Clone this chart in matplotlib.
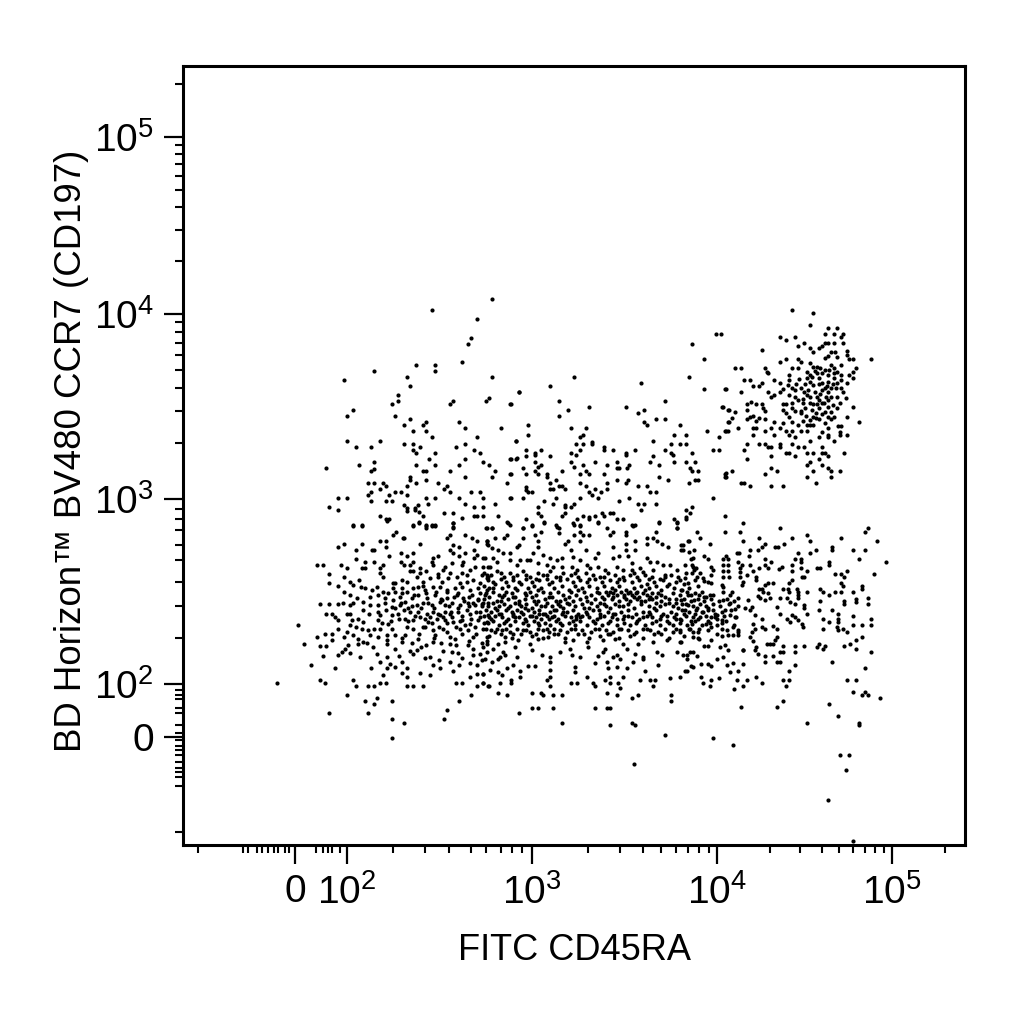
#!/usr/bin/env python

import numpy as np
import matplotlib
matplotlib.use('Agg')
import matplotlib.pyplot as plt
from matplotlib.ticker import FixedLocator, NullFormatter

# all events are in display decades of the biexponential axes (2 = 10^2, 3 = 10^3, ...)
# one list per region

upper_left = [
(2.786,4.085),(2.458,4.020),(2.703,3.971),(2.670,3.872),(2.654,3.840),(2.622,3.741),(2.375,3.725),(2.474,3.725),
(2.474,3.692),(2.146,3.692),(1.982,3.644),(2.326,3.660),(2.786,3.660),(2.342,3.611),(2.278,3.562),(2.278,3.528),
(2.245,3.512),(2.032,3.480),(1.998,3.447),(2.261,3.447),(2.342,3.431),(2.310,3.398),(2.409,3.398),(2.425,3.415),
(2.359,3.366),(2.425,3.366),(2.458,3.334),(1.998,3.316),(2.178,3.316),(2.047,3.283),(2.130,3.283),(2.310,3.299),
(2.359,3.299),(2.393,3.283),(2.359,3.267),(2.375,3.251),(2.474,3.251),(2.441,3.218),(2.065,3.184),(1.885,3.168),
(2.146,3.200),(2.146,3.162),(2.130,3.152),(2.375,3.184),(2.474,3.184),(2.409,3.152),(2.425,3.152),(2.342,3.119),
(2.342,3.103),(2.425,3.103),(2.375,3.087),(2.114,3.087),(2.146,3.087),(2.196,3.087),(2.213,3.071),(2.326,3.071),
(2.178,3.054),(2.490,3.087),(2.539,3.071),(2.523,3.054),(2.555,3.038),(2.261,3.038),(2.294,3.038),(2.130,3.038),
(2.114,3.022),(2.229,3.022),(2.326,3.022),(1.950,3.004),(1.998,3.004),(2.425,3.004),(2.474,3.004),(2.130,2.988),
(2.213,2.988),(2.245,2.988),(1.901,2.955),(1.950,2.939),(2.930,3.577),(2.768,3.544),(2.751,3.528),(2.571,3.528),
(2.555,3.512),(2.883,3.512),(2.604,3.415),(2.638,3.382),(2.834,3.382),(2.703,3.334),(2.915,3.316),(2.638,3.299),
(2.587,3.283),(2.687,3.267),(2.719,3.251),(2.638,3.218),(2.883,3.218),(2.915,3.218),(2.735,3.200),(2.768,3.184),
(2.605,3.184),(2.555,3.152),(2.802,3.152),(2.883,3.135),(2.638,3.119),(2.786,3.119),(2.867,3.087),(2.670,3.038),
(2.719,3.038),(2.605,3.004),(2.735,3.004),(2.883,3.004),(2.638,2.971),(2.802,2.971),(2.687,2.955),(2.735,2.955),
(2.523,2.923),(2.571,2.923),(2.178,2.906),(2.213,2.890),(2.229,2.890),(2.409,2.906),(2.622,2.896),(2.687,2.906),
(2.703,2.906),(2.735,2.906),(2.818,2.906),(2.391,2.874),(2.359,2.858),(2.425,2.858),(2.458,2.858),(2.474,2.858),
(2.031,2.858),(2.079,2.858),(2.571,2.869),(2.571,2.847),(2.867,2.874),(2.883,2.858),(2.751,2.842),(2.786,2.842),
(2.310,2.968),(2.326,2.950),(2.326,2.937),(2.368,2.941),(2.386,2.968),(2.368,2.950),(2.391,2.932),(2.440,2.971),
]

upper_mid = [
(3.997,3.890),(3.867,3.840),(3.931,3.757),(3.227,3.660),(3.850,3.660),(3.587,3.625),(3.095,3.611),(3.931,3.595),
(4.047,3.595),(2.931,3.577),(3.146,3.528),(3.719,3.528),(2.885,3.512),(3.195,3.480),(3.310,3.496),(3.506,3.496),
(4.030,3.496),(4.061,3.480),(3.571,3.463),(3.604,3.480),(3.146,3.447),(3.670,3.431),(3.719,3.431),(3.604,3.415),
(3.620,3.398),(4.061,3.415),(2.980,3.398),(3.800,3.398),(3.211,3.382),(3.294,3.382),(3.948,3.366),(4.052,3.366),
(2.980,3.348),(3.767,3.348),(3.832,3.348),(3.277,3.348),(3.259,3.334),(4.012,3.334),(2.915,3.316),(3.652,3.316),
(3.238,3.299),(3.277,3.299),(3.326,3.310),(3.326,3.298),(3.751,3.298),(3.800,3.299),(3.832,3.299),(3.391,3.280),
(3.391,3.265),(2.966,3.267),(3.047,3.267),(3.259,3.267),(3.440,3.267),(3.555,3.267),(3.719,3.267),(3.980,3.267),
(4.012,3.267),(3.014,3.251),(3.014,3.238),(3.506,3.251),(3.506,3.238),(3.751,3.247),(3.867,3.251),(2.885,3.218),
(2.917,3.224),(3.211,3.247),(3.238,3.238),(3.095,3.235),(2.966,3.235),(3.652,3.235),(3.764,3.238),(3.014,3.200),
(3.211,3.200),(3.342,3.200),(3.458,3.200),(3.636,3.200),(3.767,3.200),(3.832,3.200),(3.883,3.200),(3.047,3.184),
(3.034,3.175),(3.276,3.184),(3.407,3.184),(3.522,3.184),(3.686,3.184),(3.512,3.170),(2.949,3.168),(3.227,3.175),
(3.458,3.168),(3.472,3.168),(3.854,3.168),(3.014,3.152),(3.162,3.152),(3.292,3.152),(3.867,3.152),(3.899,3.152),
(2.885,3.135),(2.966,3.135),(3.031,3.135),(3.259,3.135),(3.310,3.135),(3.391,3.135),(4.047,3.135),(4.047,3.121),
(3.079,3.135),(3.079,3.121),(3.686,3.119),(3.128,3.103),(3.458,3.103),(3.735,3.103),(3.883,3.103),(3.899,3.103),
(3.521,3.103),(3.095,3.087),(3.259,3.087),(3.407,3.087),(3.506,3.087),(3.850,3.087),(3.146,3.071),(3.162,3.071),
(3.294,3.071),(3.571,3.071),(3.620,3.071),(2.966,3.063),(2.966,3.049),(2.980,3.038),(2.998,3.038),(3.095,3.054),
(3.112,3.054),(3.178,3.054),(3.342,3.054),(3.407,3.054),(3.310,3.038),(3.375,3.038),(3.636,3.038),(3.670,3.038),
(3.326,3.022),(2.885,3.004),(2.949,3.004),(3.128,3.004),(3.259,3.004),(3.358,3.004),(3.522,3.004),(3.980,3.004),
(3.063,2.988),(3.472,2.988),(3.112,2.971),(3.178,2.968),(3.178,2.955),(3.571,2.971),(3.604,2.971),(3.670,2.971),
(3.227,2.971),(3.031,2.955),(3.211,2.955),(3.867,2.955),(3.587,2.939),(3.832,2.939),(3.031,2.923),(3.178,2.923),
(3.376,2.923),(3.422,2.923),(3.440,2.923),(3.854,2.923),(3.047,2.906),(3.162,2.906),(3.276,2.906),(3.310,2.901),
(3.310,2.890),(3.342,2.906),(3.391,2.906),(3.832,2.905),(4.047,2.906),(2.966,2.890),(3.241,2.890),(3.458,2.890),
(3.490,2.890),(3.767,2.890),(3.832,2.890),(3.063,2.874),(3.358,2.874),(3.686,2.874),(3.782,2.878),(2.998,2.858),
(3.128,2.858),(3.227,2.858),(3.259,2.858),(3.539,2.858),(3.557,2.858),(2.949,2.842),(3.146,2.842),(3.407,2.842),
(3.784,2.842),
]

ccr7_high_cluster = [
(4.430,4.020),(4.550,4.004),(4.533,3.939),(4.636,3.923),(4.687,3.923),(4.619,3.890),(4.670,3.890),(4.722,3.890),
(4.707,3.874),(4.362,3.874),(4.447,3.874),(4.396,3.858),(4.021,3.890),(4.499,3.842),(4.465,3.826),(4.619,3.842),
(4.636,3.842),(4.602,3.826),(4.670,3.842),(4.722,3.842),(4.533,3.818),(4.550,3.793),(4.585,3.818),(4.255,3.807),
(4.741,3.802),(4.741,3.779),(4.756,3.759),(4.775,3.759),(4.653,3.793),(4.674,3.793),(4.636,3.775),(4.619,3.761),
(4.687,3.770),(4.880,3.759),(4.362,3.743),(4.396,3.759),(4.465,3.759),(4.482,3.743),(4.533,3.734),(4.550,3.716),
(4.569,3.716),(4.588,3.707),(4.653,3.725),(4.670,3.707),(4.687,3.689),(4.707,3.725),(4.707,3.671),(4.101,3.708),
(4.135,3.708),(4.274,3.708),(4.284,3.689),(4.293,3.680),(4.430,3.707),(4.465,3.708),(4.413,3.671),(4.516,3.689),
(4.533,3.671),(4.569,3.680),(4.619,3.698),(4.636,3.671),(4.792,3.707),(4.775,3.689),(4.756,3.671),(4.775,3.653),
(4.152,3.644),(4.187,3.644),(4.326,3.644),(4.362,3.626),(4.413,3.644),(4.407,3.617),(4.516,3.653),(4.533,3.635),
(4.550,3.617),(4.585,3.653),(4.602,3.626),(4.619,3.598),(4.670,3.653),(4.687,3.626),(4.707,3.644),(4.741,3.626),
(4.636,3.635),(4.204,3.611),(4.255,3.626),(4.240,3.611),(4.049,3.593),(4.135,3.579),(4.291,3.579),(4.379,3.593),
(4.362,3.580),(4.430,3.598),(4.447,3.590),(4.482,3.598),(4.499,3.580),(4.516,3.562),(4.569,3.553),(4.636,3.580),
(4.653,3.598),(4.707,3.598),(4.722,3.580),(4.687,3.553),(4.739,3.548),(4.308,3.553),(4.326,3.562),(4.413,3.562),
(4.447,3.553),(4.465,3.535),(4.430,3.517),(4.533,3.553),(4.585,3.535),(4.602,3.517),(4.550,3.514),(4.569,3.514),
(4.636,3.535),(4.192,3.526),(4.169,3.514),(4.221,3.514),(4.255,3.514),(4.379,3.514),(4.396,3.514),(4.489,3.517),
(4.032,3.496),(4.067,3.481),(4.101,3.469),(4.169,3.481),(4.265,3.490),(4.274,3.476),(4.379,3.481),(4.428,3.490),
(4.394,3.463),(4.411,3.445),(4.447,3.476),(4.480,3.476),(4.480,3.463),(4.636,3.499),(4.619,3.472),(4.653,3.472),
(4.687,3.490),(4.775,3.496),(4.567,3.463),(4.550,3.445),(4.533,3.427),(4.516,3.400),(4.533,3.400),(4.567,3.436),
(4.550,3.400),(4.636,3.445),(4.653,3.431),(4.670,3.445),(4.741,3.445),(4.619,3.409),(4.636,3.382),(4.693,3.397),
(4.707,3.397),(4.084,3.436),(4.067,3.415),(4.169,3.431),(4.187,3.445),(4.204,3.449),(4.221,3.420),(4.238,3.436),
(4.274,3.431),(4.809,3.415),(4.326,3.415),(4.430,3.415),(4.379,3.409),(4.360,3.382),(4.465,3.399),(4.118,3.382),
(4.207,3.382),(4.223,3.382),(4.274,3.366),(4.308,3.382),(4.326,3.348),(4.204,3.348),(4.047,3.366),(4.065,3.366),
(4.396,3.366),(4.413,3.348),(4.430,3.366),(4.446,3.337),(4.482,3.366),(4.516,3.366),(4.585,3.337),(4.602,3.364),
(4.636,3.348),(4.636,3.334),(4.670,3.316),(4.705,3.364),(4.705,3.346),(4.741,3.348),(4.533,3.316),(4.169,3.299),
(4.152,3.267),(4.238,3.299),(4.274,3.299),(4.293,3.283),(4.308,3.283),(4.362,3.299),(4.362,3.283),(4.430,3.299),
(4.465,3.283),(4.499,3.283),(4.602,3.283),(4.308,3.235),(4.396,3.251),(4.413,3.251),(4.447,3.235),(4.516,3.251),
(4.550,3.251),(4.602,3.251),(4.619,3.251),(4.636,3.235),(4.724,3.251),(4.169,3.218),(4.585,3.218),(4.533,3.202),
(4.516,3.186),(4.602,3.186),(4.636,3.170),(4.653,3.153),(4.308,3.170),(4.343,3.153),(4.550,3.153),(4.705,3.153),
(4.084,3.153),(4.049,3.139),(4.049,3.121),(4.274,3.137),(4.516,3.121),(4.653,3.121),(4.135,3.089),(4.152,3.089),
(4.187,3.072),(4.308,3.072),(4.377,3.072),(4.567,3.089),
# inside the cluster, between the dots above
(4.54,3.66),(4.58,3.62),(4.60,3.59),(4.63,3.61),(4.66,3.62),(4.68,3.60),(4.50,3.62),(4.47,3.65),(4.45,3.62),(4.56,3.58),
(4.59,3.57),(4.62,3.55),(4.65,3.55),(4.60,3.68),(4.64,3.70),(4.67,3.68),(4.56,3.69),(4.52,3.59),(4.49,3.54),(4.53,3.52),
(4.50,3.49),(4.54,3.48),(4.58,3.49),(4.60,3.46),(4.51,3.45),(4.58,3.43),(4.49,3.42),(4.61,3.52),(4.66,3.51),(4.70,3.52),
]

band_right = [
(4.150,2.872),(4.362,2.841),(4.048,2.823),(4.133,2.823),(3.893,2.823),(4.514,2.807),(4.865,2.841),(4.846,2.823),
(3.910,2.790),(4.238,2.790),(4.430,2.790),(4.707,2.790),(3.842,2.774),(4.150,2.774),(4.531,2.774),(4.916,2.774),
(3.962,2.758),(3.808,2.751),(3.808,2.727),(4.381,2.758),(4.274,2.758),(4.255,2.742),(4.236,2.724),(4.331,2.742),
(4.347,2.742),(4.655,2.742),(4.655,2.724),(3.874,2.726),(4.189,2.726),(4.568,2.726),(4.775,2.726),(4.846,2.726),
(4.465,2.709),(4.531,2.709),(4.128,2.709),(4.112,2.709),(3.931,2.693),(3.950,2.675),(4.050,2.691),(4.036,2.675),
(4.065,2.675),(4.185,2.693),(3.859,2.675),(4.274,2.677),(4.447,2.677),(4.482,2.677),(4.482,2.661),(4.811,2.677),
(4.966,2.659),(4.638,2.659),(4.638,2.643),(4.307,2.659),(4.036,2.646),(4.065,2.646),(4.122,2.659),(4.141,2.643),
(4.189,2.645),(4.238,2.628),(4.274,2.645),(4.293,2.628),(4.370,2.634),(4.356,2.623),(4.430,2.643),(4.482,2.628),
(4.570,2.628),(4.587,2.628),(3.867,2.643),(3.886,2.625),(3.876,2.616),(3.867,2.598),(3.970,2.634),(3.979,2.616),
(3.970,2.589),(4.131,2.625),(4.131,2.607),(4.208,2.612),(4.430,2.612),(4.516,2.612),(4.741,2.612),(4.672,2.596),
(4.707,2.596),(4.726,2.580),(4.895,2.596),(4.036,2.612),(4.065,2.612),(4.069,2.580),(4.036,2.580),(4.170,2.589),
(4.223,2.580),(4.223,2.562),(4.484,2.580),(4.499,2.580),(4.430,2.562),(4.411,2.547),(3.827,2.571),(3.846,2.544),
(3.922,2.571),(3.950,2.553),(3.970,2.544),(3.931,2.558),(4.131,2.580),(4.150,2.553),(4.141,2.535),(4.084,2.498),
(4.027,2.535),(4.036,2.498),(4.293,2.547),(4.322,2.547),(4.274,2.535),(4.238,2.513),(4.255,2.513),(4.707,2.547),
(4.722,2.529),(4.827,2.529),(4.827,2.513),(4.379,2.513),(4.408,2.513),(4.413,2.497),(4.455,2.513),(4.465,2.497),
(4.516,2.497),(4.587,2.513),(4.604,2.497),(4.638,2.481),(4.672,2.497),(4.707,2.497),(4.775,2.497),(4.265,2.499),
(4.293,2.490),(4.303,2.463),(4.236,2.475),(4.246,2.463),(4.274,2.454),(4.360,2.463),(4.398,2.463),(4.417,2.445),
(4.465,2.463),(4.465,2.481),(4.587,2.448),(4.724,2.448),(4.724,2.432),(4.794,2.457),(4.794,2.445),(4.863,2.464),
(4.863,2.432),(4.446,2.432),(4.343,2.416),(4.499,2.427),(4.499,2.409),(4.516,2.381),(4.585,2.400),(4.655,2.400),
(4.689,2.381),(4.360,2.381),(4.430,2.372),(4.446,2.363),(4.465,2.345),(4.483,2.327),(4.398,2.351),(4.417,2.336),
(4.255,2.351),(4.775,2.367),(4.880,2.351),(4.604,2.351),(4.689,2.351),(4.689,2.335),(4.638,2.335),(4.775,2.317),
(4.827,2.317),(4.880,2.317),(4.494,2.309),(4.604,2.300),(4.684,2.309),(4.689,2.291),(4.722,2.300),(4.741,2.282),
(4.322,2.313),(4.341,2.300),(4.255,2.309),(4.274,2.300),(4.208,2.327),(4.217,2.300),(4.198,2.282),(4.827,2.252),
(4.794,2.236),(4.760,2.219),(4.341,2.252),(4.331,2.237),(4.322,2.219),(4.284,2.219),(4.303,2.219),(4.189,2.252),
(4.208,2.234),(4.585,2.219),(4.570,2.201),(4.619,2.205),(4.604,2.187),(4.446,2.203),(4.499,2.203),(4.724,2.203),
(4.794,2.187),(4.446,2.171),(4.379,2.203),(4.880,2.171),(4.360,2.171),(4.379,2.171),(4.322,2.153),(4.274,2.153),
(4.217,2.183),(4.236,2.165),(4.223,2.201),(4.150,2.183),(4.341,2.120),(4.360,2.120),(4.446,2.104),(4.274,2.120),
(4.655,2.120),(4.846,2.088),(4.411,2.072),(4.741,2.021),(4.792,2.021),(4.379,2.021),(4.411,2.021),(4.394,1.990),
(4.255,2.005),(4.223,2.039),(4.170,2.021),(4.116,2.021),(4.150,1.990),(4.099,1.973),(4.775,1.956),(4.827,1.940),
(4.846,1.956),(4.865,1.940),(4.931,1.924),(4.379,1.908),(4.638,1.891),(4.343,1.875),(4.135,1.875),(4.690,1.825),
(4.516,1.792),(4.811,1.792),(4.811,1.778),(3.979,1.709),(4.09,1.670),(3.553,1.568),(4.634,1.373),(4.703,1.616),
(4.754,1.616),(4.737,1.535),(4.777,1.151),
]

band_near_1e4 = [
(3.808,2.454),(3.846,2.427),(3.827,2.400),(3.884,2.400),(3.922,2.390),(3.950,2.409),(3.979,2.400),(3.998,2.372),
(4.046,2.400),(4.074,2.372),(4.103,2.363),(4.160,2.409),(4.189,2.400),(4.217,2.372),(3.808,2.346),(3.865,2.327),
(3.903,2.300),(3.970,2.309),(4.027,2.300),(4.093,2.309),(4.122,2.291),(3.798,2.282),(3.855,2.300),(3.941,2.327),
(4.027,2.346),(3.903,2.246),(3.808,2.228),(4.065,2.264),(4.093,2.264),(4.122,2.264),(3.931,2.205),(3.950,2.205),
(4.017,2.201),(4.046,2.210),(4.065,2.183),(4.150,2.183),(3.894,2.151),(3.818,2.156),(3.855,2.174),(3.836,2.138),
(3.998,2.138),(4.036,2.147),(4.093,2.111),(4.150,2.108),(4.055,2.102),(3.861,2.097),(3.912,2.108),(3.950,2.108),
(3.970,2.097),(3.827,2.072),(4.074,2.066),(4.118,2.072),(3.912,2.039),(3.970,2.021),(4.013,2.030),(3.926,2.003),
(3.960,1.989),(4.036,2.526),(4.074,2.481),(4.122,2.463),(4.179,2.454),(4.198,2.414),(4.074,2.436),(4.036,2.454),
(4.103,2.408),(3.979,2.481),(3.903,2.481),(3.941,2.472),(3.874,2.454),(3.846,2.481),(3.808,2.508),
]

band_left = [
(2.033,2.855),(2.081,2.855),(2.218,2.882),(2.359,2.855),(2.391,2.872),(2.425,2.855),(2.425,2.841),(2.458,2.855),
(2.476,2.855),(2.571,2.872),(2.571,2.841),(2.263,2.823),(2.247,2.807),(2.301,2.790),(2.310,2.790),(2.557,2.807),
(2.539,2.790),(2.638,2.807),(2.674,2.790),(2.701,2.774),(2.755,2.774),(2.755,2.756),(1.984,2.758),(1.952,2.742),
(2.081,2.758),(2.180,2.774),(2.213,2.774),(2.213,2.742),(2.393,2.758),(2.049,2.726),(2.134,2.726),(2.146,2.726),
(2.575,2.751),(2.557,2.724),(2.571,2.709),(2.606,2.742),(2.638,2.709),(2.687,2.724),(2.701,2.697),(2.687,2.679),
(2.737,2.679),(2.229,2.693),(2.294,2.709),(2.326,2.693),(2.359,2.709),(2.490,2.693),(2.606,2.693),(2.049,2.677),
(2.098,2.659),(2.146,2.659),(2.294,2.661),(2.310,2.643),(2.359,2.661),(2.341,2.646),(2.467,2.679),(2.458,2.661),
(2.467,2.643),(2.629,2.661),(2.620,2.643),(1.836,2.643),(1.869,2.643),(1.966,2.643),(1.998,2.627),(2.081,2.627),
(2.098,2.627),(2.197,2.643),(2.180,2.627),(2.179,2.598),(2.197,2.580),(1.901,2.594),(1.901,2.545),(1.984,2.578),
(2.016,2.553),(2.034,2.535),(2.065,2.562),(1.950,2.529),(2.341,2.610),(2.359,2.610),(2.393,2.627),(2.425,2.610),
(2.393,2.598),(2.494,2.594),(2.530,2.634),(2.557,2.598),(2.521,2.616),(2.566,2.652),(2.620,2.598),(2.647,2.589),
(2.692,2.634),(2.737,2.634),(2.764,2.634),(2.728,2.589),(2.755,2.589),(2.665,2.616),(2.247,2.545),(2.261,2.545),
(2.296,2.562),(2.323,2.553),(2.377,2.580),(2.413,2.553),(2.449,2.571),(2.494,2.580),(2.512,2.553),(2.548,2.571),
(2.593,2.580),(2.611,2.544),(2.647,2.553),(2.683,2.562),(2.719,2.544),(2.755,2.571),(2.074,2.526),(2.098,2.517),
(2.134,2.508),(2.161,2.526),(2.197,2.499),(2.224,2.490),(2.260,2.499),(2.296,2.517),(2.323,2.499),(2.359,2.517),
(2.386,2.526),(2.422,2.508),(2.467,2.526),(2.503,2.526),(2.539,2.508),(2.584,2.517),(2.620,2.526),(2.665,2.508),
(2.710,2.517),(2.755,2.508),(1.984,2.499),(2.016,2.481),(2.052,2.463),(2.125,2.472),(2.170,2.481),(2.206,2.463),
(2.251,2.454),(2.287,2.472),(2.314,2.445),(2.350,2.463),(2.386,2.481),(2.431,2.463),(2.476,2.481),(2.512,2.454),
(2.539,2.463),(2.593,2.481),(2.629,2.463),(2.674,2.481),(2.710,2.454),(2.746,2.481),(1.854,2.430),(1.903,2.430),
(1.953,2.430),(1.977,2.436),(2.016,2.427),(2.034,2.436),(2.089,2.445),(2.125,2.427),(2.170,2.427),(2.206,2.436),
(2.242,2.418),(2.287,2.427),(2.332,2.409),(2.377,2.427),(2.413,2.436),(2.458,2.427),(2.503,2.445),(2.530,2.427),
(2.566,2.436),(2.611,2.427),(2.656,2.436),(2.692,2.427),(2.737,2.436),(1.887,2.381),(1.917,2.381),(1.998,2.381),
(2.016,2.381),(2.089,2.399),(2.170,2.390),(2.179,2.372),(2.242,2.372),(2.278,2.381),(2.341,2.390),(2.386,2.390),
(2.431,2.381),(2.467,2.390),(2.503,2.372),(2.557,2.381),(2.602,2.390),(2.665,2.381),(2.719,2.390),(2.764,2.372),
(1.935,2.363),(1.953,2.345),(2.025,2.345),(2.061,2.354),(2.089,2.336),(2.170,2.345),(2.224,2.327),(2.314,2.354),
(2.359,2.345),(2.395,2.363),(2.440,2.336),(2.485,2.354),(2.530,2.345),(2.575,2.336),(2.620,2.345),(2.665,2.327),
(2.710,2.345),(2.755,2.336),(1.950,2.300),(2.016,2.318),(2.049,2.309),(2.116,2.291),(2.146,2.300),(2.242,2.300),
(2.323,2.309),(2.359,2.300),(2.422,2.309),(2.467,2.291),(2.521,2.300),(2.611,2.300),(2.656,2.291),(2.737,2.300),
(1.881,2.268),(1.917,2.268),(1.836,2.252),(1.984,2.252),(2.034,2.264),(2.061,2.246),(2.125,2.264),(2.170,2.255),
(2.215,2.264),(2.215,2.237),(2.260,2.264),(2.314,2.264),(2.386,2.246),(2.476,2.264),(2.557,2.255),(2.584,2.246),
(2.683,2.255),(2.755,2.255),(1.770,2.219),(1.917,2.236),(1.854,2.203),(1.887,2.203),(2.007,2.210),(1.989,2.192),
(2.061,2.219),(2.089,2.228),(2.143,2.201),(2.215,2.219),(2.296,2.228),(2.260,2.192),(2.467,2.228),(2.557,2.219),
(2.656,2.210),(2.755,2.219),(1.737,2.317),(1.869,2.153),(1.953,2.156),(1.971,2.174),(2.016,2.169),(2.070,2.147),
(2.164,2.165),(2.215,2.147),(2.377,2.183),(2.359,2.165),(2.449,2.147),(2.566,2.174),(2.683,2.156),(2.719,2.165),
(2.755,2.174),(1.804,2.104),(1.934,2.088),(2.130,2.088),(2.180,2.120),(2.296,2.120),(2.233,2.108),(2.215,2.084),
(2.326,2.088),(2.467,2.102),(2.503,2.088),(2.557,2.120),(2.607,2.104),(2.665,2.111),(2.701,2.102),(1.624,2.005),
(1.854,2.023),(1.881,2.005),(2.033,2.023),(2.049,1.989),(2.114,1.989),(2.146,1.989),(2.180,2.005),(2.213,2.005),
(2.197,2.048),(2.260,2.093),(2.296,2.057),(2.323,2.039),(2.395,2.061),(2.449,2.048),(2.571,2.072),(2.665,2.039),
(2.701,2.054),(2.737,2.054),(2.326,1.989),(2.359,1.989),(2.409,1.989),(2.589,2.005),(2.622,2.005),(2.705,1.989),
(2.737,2.005),(2.764,1.989),(2.000,1.940),(2.098,1.908),(2.162,1.924),(2.146,1.891),(2.245,1.908),(2.606,1.908),
(2.672,1.940),(1.901,1.841),(2.114,1.841),(2.539,1.859),(2.245,1.809),(2.310,1.792),(2.523,1.809),(2.245,1.709),
# thicker part of the band, left of 10^3
(2.29,2.44),(2.31,2.40),(2.35,2.42),(2.37,2.37),(2.40,2.41),(2.42,2.35),(2.44,2.44),(2.45,2.36),(2.47,2.41),(2.49,2.38),
(2.50,2.31),(2.51,2.46),(2.53,2.39),(2.54,2.33),(2.55,2.42),(2.57,2.36),(2.58,2.47),(2.59,2.31),(2.60,2.41),(2.62,2.37),
(2.63,2.45),(2.64,2.32),(2.65,2.40),(2.67,2.35),(2.68,2.44),(2.69,2.31),(2.70,2.39),(2.72,2.36),(2.73,2.42),(2.74,2.33),
(2.33,2.34),(2.41,2.31),(2.46,2.33),(2.52,2.36),(2.56,2.39),(2.61,2.34),(2.66,2.42),(2.71,2.46),(2.36,2.48),(2.43,2.49),
(2.48,2.50),(2.54,2.50),(2.60,2.49),(2.66,2.47),(2.72,2.49),(2.28,2.35),(2.21,2.40),(2.26,2.41),(2.19,2.33),(2.12,2.38),
(2.30,2.25),(2.35,2.22),(2.39,2.27),(2.43,2.21),(2.47,2.25),(2.51,2.22),(2.54,2.28),(2.59,2.21),(2.62,2.27),(2.66,2.23),
(2.70,2.27),(2.73,2.22),(2.40,2.20),(2.52,2.18),(2.60,2.17),(2.68,2.19),(2.34,2.18),(2.28,2.15),(2.42,2.14),(2.62,2.14),
(2.50,2.13),(2.73,2.13),(2.11,2.22),(2.18,2.30),(2.24,2.34),(2.08,2.30),(2.00,2.28),(2.30,2.49),(2.25,2.52),(2.41,2.53),
]

band_mid_low = [
(2.755,2.234),(2.818,2.219),(2.854,2.255),(2.854,2.228),(2.926,2.237),(2.989,2.219),(3.034,2.246),(3.088,2.255),
(3.178,2.228),(3.224,2.237),(3.296,2.228),(3.386,2.237),(3.449,2.246),(3.494,2.219),(3.575,2.219),(3.656,2.228),
(3.728,2.237),(3.800,2.228),(3.872,2.255),(2.737,2.201),(2.791,2.192),(2.845,2.174),(2.827,2.147),(2.908,2.201),
(2.917,2.147),(2.998,2.183),(3.052,2.156),(3.097,2.147),(3.097,2.120),(3.151,2.174),(3.205,2.192),(3.214,2.156),
(3.260,2.147),(3.305,2.201),(3.359,2.151),(3.386,2.174),(3.395,2.192),(3.440,2.147),(3.458,2.156),(3.476,2.138),
(3.512,2.192),(3.557,2.165),(3.602,2.147),(3.674,2.174),(3.701,2.156),(3.782,2.174),(3.836,2.156),(3.872,2.174),
(2.746,2.138),(2.782,2.120),(2.818,2.138),(2.854,2.156),(2.899,2.102),(2.867,2.084),(2.980,2.097),(3.016,2.097),
(3.097,2.075),(3.233,2.093),(3.341,2.111),(3.404,2.120),(3.413,2.084),(3.458,2.093),(3.512,2.084),(3.548,2.120),
(3.602,2.138),(3.683,2.102),(3.872,2.093),(2.737,2.054),(2.773,2.075),(2.818,2.066),(2.836,2.048),(2.935,2.072),
(2.935,2.039),(3.097,2.039),(3.079,2.021),(3.233,2.066),(3.296,2.039),(3.395,2.021),(3.422,2.039),(3.494,2.039),
(3.611,2.072),(3.638,2.021),(3.746,2.030),(3.800,2.039),(3.836,2.072),(2.737,2.003),(2.769,1.990),(2.827,2.003),
(2.885,2.021),(2.885,2.003),(3.097,1.989),(3.211,2.003),(3.245,2.003),(3.332,2.003),(3.341,1.990),(3.422,2.003),
(3.467,2.007),(3.584,2.021),(3.656,1.989),(3.665,2.021),(2.818,1.954),(2.867,1.940),(2.998,1.954),(3.047,1.954),
(3.061,1.940),(3.112,1.940),(3.160,1.940),(3.407,1.954),(3.458,1.940),(3.476,1.976),(3.539,1.922),(3.575,1.940),
(3.751,1.940),(3.751,1.906),(2.998,1.873),(3.031,1.873),(3.112,1.873),(3.341,1.873),(3.407,1.873),(3.422,1.873),
(2.932,1.841),(3.160,1.792),(3.422,1.776),(3.539,1.792),(3.555,1.776),(3.719,1.727),
]

band_mid_top = [
(2.872,2.868),(2.950,2.841),(2.998,2.855),(3.065,2.872),(3.224,2.872),(3.260,2.855),(3.359,2.872),(3.687,2.872),
(3.782,2.872),(3.544,2.855),(3.137,2.850),(3.146,2.814),(2.755,2.841),(2.786,2.841),(3.047,2.823),(3.260,2.823),
(3.308,2.807),(3.440,2.823),(3.506,2.823),(3.506,2.807),(3.670,2.823),(3.786,2.841),(3.422,2.807),(2.802,2.790),
(2.867,2.807),(2.849,2.790),(2.950,2.790),(3.014,2.807),(3.227,2.807),(3.278,2.807),(3.031,2.774),(3.193,2.774),
(3.260,2.774),(3.178,2.756),(3.440,2.742),(3.506,2.758),(3.555,2.774),(3.620,2.790),(3.656,2.790),(3.620,2.758),
(3.674,2.774),(3.701,2.758),(3.849,2.774),(3.818,2.751),(3.818,2.724),(2.755,2.774),(2.764,2.751),(2.782,2.733),
(2.818,2.724),(2.845,2.706),(2.932,2.751),(2.917,2.742),(3.031,2.742),(3.211,2.724),(3.292,2.726),(3.506,2.726),
(3.555,2.726),(3.359,2.709),(3.733,2.742),(3.849,2.715),(2.881,2.709),(3.007,2.706),(3.061,2.697),(3.097,2.679),
(3.133,2.673),(3.160,2.679),(3.224,2.688),(3.260,2.673),(3.341,2.679),(3.440,2.679),(3.472,2.693),(3.521,2.693),
(3.620,2.679),(3.638,2.661),(3.674,2.661),(3.872,2.679),(2.746,2.679),(2.791,2.679),(2.809,2.661),(2.773,2.634),
(2.881,2.673),(2.935,2.673),(2.971,2.673),(2.989,2.673),(3.034,2.652),(2.917,2.643),(3.079,2.643),(3.115,2.634),
(3.160,2.634),(3.214,2.634),(3.241,2.616),(3.296,2.643),(3.314,2.625),(3.359,2.634),(3.395,2.616),(3.458,2.634),
(3.494,2.616),(3.539,2.652),(3.539,2.616),(3.584,2.625),(3.602,2.607),(3.656,2.616),(3.710,2.643),(3.719,2.589),
(3.746,2.643),(3.782,2.616),(3.827,2.643),(3.872,2.634),(3.890,2.580),
]

# the dense band between 10^3 and 10^4, row by row
band_dense = [
(2.74,2.60),(2.78,2.59),(2.81,2.61),(2.85,2.58),(2.88,2.60),(2.92,2.59),(2.95,2.61),(2.99,2.58),(3.03,2.60),(3.06,2.59),
(3.10,2.61),(3.13,2.58),(3.17,2.60),(3.21,2.59),(3.25,2.58),(3.29,2.60),(3.33,2.59),(3.37,2.58),(3.41,2.60),(3.45,2.59),
(3.49,2.58),(3.53,2.59),(3.57,2.58),(3.61,2.59),(3.65,2.58),(3.69,2.57),(3.75,2.59),(3.79,2.58),(3.83,2.60),(3.91,2.60),
(2.76,2.56),(2.79,2.55),(2.83,2.57),(2.86,2.55),(2.90,2.56),(2.93,2.55),(2.97,2.57),(3.00,2.55),(3.04,2.56),(3.08,2.57),
(3.11,2.55),(3.15,2.56),(3.19,2.57),(3.22,2.55),(3.26,2.56),(3.30,2.55),(3.34,2.57),(3.38,2.55),(3.42,2.56),(3.46,2.55),
(3.50,2.56),(3.54,2.55),(3.58,2.56),(3.62,2.54),(3.66,2.55),(3.71,2.56),(3.74,2.54),(3.78,2.55),(3.82,2.54),(3.90,2.53),
(2.74,2.53),(2.77,2.52),(2.80,2.54),(2.84,2.52),(2.87,2.53),(2.91,2.52),(2.94,2.54),(2.98,2.52),(3.01,2.53),(3.05,2.52),
(3.09,2.54),(3.12,2.52),(3.16,2.53),(3.20,2.51),(3.23,2.53),(3.27,2.52),(3.31,2.53),(3.35,2.52),(3.39,2.53),(3.43,2.52),
(3.47,2.53),(3.51,2.51),(3.55,2.52),(3.59,2.53),(3.63,2.52),(3.67,2.53),(3.70,2.51),(3.73,2.53),(3.77,2.52),(3.81,2.51),(3.85,2.52),
(2.75,2.49),(2.79,2.50),(2.82,2.48),(2.86,2.50),(2.89,2.49),(2.92,2.51),(2.96,2.49),(2.99,2.50),(3.02,2.48),(3.06,2.50),
(3.10,2.49),(3.14,2.50),(3.17,2.48),(3.21,2.50),(3.24,2.48),(3.28,2.50),(3.32,2.48),(3.36,2.49),(3.40,2.50),(3.41,2.48),(3.44,2.49),
(3.46,2.48),(3.48,2.50),(3.50,2.48),(3.52,2.49),(3.54,2.48),(3.56,2.49),(3.58,2.47),(3.60,2.49),(3.62,2.48),(3.64,2.47),
(3.68,2.49),(3.72,2.47),(3.76,2.49),(3.80,2.48),(3.84,2.50),(3.88,2.49),(3.92,2.50),(3.96,2.48),
(2.74,2.46),(2.77,2.47),(2.81,2.45),(2.84,2.47),(2.87,2.46),(2.90,2.47),(2.93,2.45),(2.96,2.46),(3.00,2.47),(3.03,2.45),
(3.07,2.46),(3.11,2.47),(3.15,2.45),(3.18,2.46),(3.22,2.45),(3.26,2.46),(3.30,2.45),(3.34,2.46),(3.37,2.44),(3.39,2.46),
(3.43,2.46),(3.47,2.45),(3.51,2.46),(3.53,2.45),(3.57,2.46),(3.61,2.45),(3.65,2.46),(3.67,2.44),(3.70,2.45),(3.74,2.46),
(3.78,2.44),(3.82,2.46),(3.86,2.45),(3.90,2.46),(3.93,2.45),(3.97,2.46),(4.01,2.45),(4.06,2.46),(4.10,2.45),
(2.73,2.43),(2.76,2.42),(2.79,2.44),(2.82,2.42),(2.85,2.43),(2.88,2.42),(2.91,2.44),(2.94,2.42),(2.97,2.43),(3.00,2.41),
(3.02,2.43),(3.05,2.42),(3.08,2.44),(3.11,2.42),(3.14,2.43),(3.17,2.41),(3.20,2.43),(3.23,2.42),(3.27,2.43),(3.31,2.41),
(3.35,2.42),(3.39,2.43),(3.42,2.41),(3.45,2.43),(3.49,2.42),(3.52,2.43),(3.55,2.41),(3.59,2.43),(3.63,2.42),(3.66,2.41),
(3.69,2.42),(3.72,2.43),(3.76,2.42),(3.79,2.41),(3.83,2.43),(3.87,2.42),(3.91,2.43),(3.94,2.42),(3.98,2.43),(4.02,2.42),(4.07,2.43),(4.12,2.42),
(2.75,2.40),(2.78,2.39),(2.81,2.40),(2.83,2.38),(2.86,2.40),(2.89,2.39),(2.92,2.40),(2.95,2.38),(2.98,2.40),(3.01,2.39),
(3.04,2.40),(3.07,2.38),(3.10,2.39),(3.13,2.40),(3.16,2.38),(3.19,2.39),(3.22,2.40),(3.25,2.38),(3.29,2.39),(3.33,2.40),
(3.37,2.38),(3.41,2.39),(3.44,2.38),(3.48,2.39),(3.52,2.40),(3.56,2.38),(3.60,2.39),(3.64,2.38),(3.67,2.40),(3.71,2.38),
(3.75,2.39),(3.78,2.38),(3.81,2.40),(3.85,2.39),(3.88,2.38),(3.92,2.39),(3.95,2.40),(3.99,2.38),(4.03,2.39),(4.08,2.40),
(2.74,2.37),(2.77,2.36),(2.80,2.37),(2.84,2.36),(2.87,2.35),(2.90,2.37),(2.93,2.36),(2.96,2.35),(2.99,2.37),(3.02,2.36),
(3.05,2.35),(3.08,2.37),(3.11,2.36),(3.14,2.35),(3.18,2.37),(3.21,2.36),(3.24,2.35),(3.27,2.37),(3.31,2.36),(3.35,2.35),
(3.39,2.37),(3.43,2.36),(3.46,2.35),(3.50,2.37),(3.54,2.36),(3.58,2.35),(3.62,2.37),(3.65,2.36),(3.69,2.35),(3.73,2.37),
(3.77,2.36),(3.80,2.35),(3.83,2.37),(3.87,2.36),(3.90,2.35),(3.94,2.37),(3.97,2.36),(4.00,2.35),(4.04,2.37),(4.11,2.36),
(2.76,2.33),(2.79,2.34),(2.82,2.32),(2.85,2.33),(2.88,2.32),(2.91,2.34),(2.95,2.33),(2.98,2.32),(3.01,2.34),(3.04,2.32),
(3.07,2.33),(3.10,2.32),(3.13,2.34),(3.16,2.32),(3.20,2.33),(3.23,2.32),(3.26,2.34),(3.30,2.32),(3.34,2.33),(3.38,2.32),
(3.42,2.34),(3.46,2.32),(3.50,2.33),(3.53,2.32),(3.57,2.34),(3.61,2.32),(3.65,2.33),(3.69,2.32),(3.73,2.34),(3.76,2.32),
(3.80,2.33),(3.84,2.32),(3.88,2.34),(3.92,2.32),(3.96,2.33),(4.00,2.32),(4.05,2.34),(4.10,2.32),
(2.75,2.30),(2.78,2.29),(2.81,2.30),(2.84,2.29),(2.88,2.28),(2.92,2.30),(2.95,2.29),(2.99,2.28),(3.03,2.30),(3.06,2.29),
(3.09,2.28),(3.12,2.30),(3.15,2.29),(3.19,2.28),(3.23,2.30),(3.27,2.29),(3.32,2.28),(3.36,2.30),(3.40,2.29),(3.44,2.28),
(3.48,2.30),(3.52,2.29),(3.56,2.28),(3.60,2.30),(3.64,2.29),(3.68,2.28),(3.72,2.30),(3.76,2.28),(3.80,2.29),(3.85,2.30),
(3.90,2.28),(3.95,2.29),(4.00,2.27),(4.06,2.29),(4.12,2.28),
(2.77,2.26),(2.83,2.27),(2.89,2.25),(2.94,2.27),(3.00,2.26),(3.06,2.25),(3.12,2.27),(3.18,2.25),(3.25,2.27),(3.31,2.25),
(3.37,2.26),(3.42,2.27),(3.47,2.25),(3.53,2.26),(3.60,2.25),(3.66,2.27),(3.74,2.25),(3.82,2.26),(3.90,2.25),(3.97,2.24),(4.03,2.26),
]

# second pass over the dense band, off the rows above
band_dense_fill = [
(2.76,2.44),(2.80,2.41),(2.83,2.45),(2.87,2.41),(2.90,2.38),(2.93,2.43),(2.96,2.41),(3.01,2.45),(3.04,2.38),(3.07,2.42),
(3.12,2.40),(3.15,2.42),(3.19,2.44),(3.24,2.37),(3.28,2.41),(3.32,2.44),(3.36,2.40),(3.40,2.42),(3.44,2.47),(3.47,2.42),
(3.50,2.47),(3.53,2.50),(3.55,2.47),(3.57,2.50),(3.59,2.45),(3.61,2.51),(3.63,2.46),(3.65,2.49),(3.67,2.47),(3.70,2.48),
(3.74,2.44),(3.78,2.46),(3.81,2.43),(3.86,2.48),(3.89,2.41),(3.93,2.47),(2.79,2.52),(2.85,2.48),(2.91,2.47),(2.97,2.48),
(3.03,2.51),(3.09,2.47),(3.13,2.45),(3.20,2.47),(3.25,2.51),(3.29,2.47),(3.35,2.50),(3.38,2.47),(3.42,2.50),(3.45,2.51),
(2.78,2.35),(2.82,2.38),(2.86,2.34),(2.91,2.36),(2.94,2.39),(2.97,2.34),(3.00,2.37),(3.03,2.33),(3.06,2.38),(3.09,2.35),
(3.12,2.37),(3.15,2.33),(3.17,2.39),(3.22,2.34),(3.26,2.36),(3.30,2.38),(3.33,2.34),(3.37,2.36),(3.41,2.33),(3.45,2.38),
(3.49,2.35),(3.52,2.37),(3.56,2.33),(3.60,2.36),(3.63,2.39),(3.67,2.34),(3.70,2.37),(3.74,2.33),(3.78,2.35),(3.82,2.38),
(3.86,2.34),(3.91,2.36),(3.95,2.34),(3.99,2.36),(4.03,2.33),(2.80,2.28),(2.86,2.30),(2.90,2.27),(2.97,2.29),(3.02,2.27),
(3.08,2.30),(3.14,2.27),(3.21,2.30),(3.28,2.27),(3.34,2.30),(3.41,2.27),(3.47,2.30),(3.55,2.27),(3.62,2.30),(3.70,2.27),
(3.78,2.30),(3.87,2.28),(2.76,2.58),(2.83,2.60),(2.90,2.58),(2.97,2.59),(3.02,2.57),(3.08,2.59),(3.15,2.58),(3.23,2.60),
(3.31,2.57),(3.39,2.58),(3.47,2.57),(3.55,2.60),(3.63,2.57),(3.72,2.58),(3.80,2.56),(3.88,2.56),
]

# tick places in display decades
decades = [2, 3, 4, 5]
decade_labels = ['$\\mathregular{10^{2}}$', '$\\mathregular{10^{3}}$', '$\\mathregular{10^{4}}$', '$\\mathregular{10^{5}}$']
x_zero = 1.719
y_zero = 1.714
x_low_ticks = [1.195, 1.438, 1.465, 1.514, 1.541, 1.573, 1.605, 1.627, 1.665, 1.686, 1.832, 1.870, 1.897, 1.919, 1.962]
y_low_ticks = [1.200, 1.449, 1.497, 1.524, 1.546, 1.578, 1.616, 1.643, 1.665, 1.697, 1.735, 1.778, 1.843, 1.870, 1.919, 1.941, 1.968]
between_100_1000 = [2.249, 2.422, 2.551, 2.670, 2.751, 2.832, 2.892, 2.946]
long_ticks = [1.438, 1.449, 1.686]
medium_ticks = [1.870, 2.670, 3.699, 4.699, 1.578]


def upper_ticks():
    ticks = []
    for n in [3, 4]:
        for k in range(2, 10):
            ticks.append(n + np.log10(k))
    ticks.append(5.301)
    return ticks


def make_scale(top_decade):
    # the top decade is drawn a bit narrower than the others
    def forward(d):
        return np.interp(d, [0, 4, 7], [0, 4, 4 + 3 * top_decade / 185.0])

    def inverse(p):
        return np.interp(p, [0, 4, 4 + 3 * top_decade / 185.0], [0, 4, 7])
    return forward, inverse


def set_tick_lengths(axis):
    for tick in axis.get_minor_ticks():
        pos = tick.get_loc()
        size = 5.5
        if min(abs(pos - m) for m in medium_ticks) < 0.002:
            size = 10
        if min(abs(pos - m) for m in long_ticks) < 0.002:
            size = 14
        tick.tick1line.set_markersize(size)


def main():
    plt.rcParams['font.family'] = ['Liberation Sans', 'DejaVu Sans']
    plt.rcParams['mathtext.fontset'] = 'custom'
    plt.rcParams['mathtext.rm'] = 'Liberation Sans'

    fig = plt.figure(figsize=(10.24, 10.24), dpi=100)
    ax = fig.add_axes([183 / 1024.0, 1 - 845 / 1024.0, 782 / 1024.0, 779 / 1024.0])
    ax.set_xscale('function', functions=make_scale(175.0))
    ax.set_yscale('function', functions=make_scale(177.0))

    groups = [upper_left, upper_mid, ccr7_high_cluster, band_right, band_near_1e4, band_left,
              band_mid_low, band_mid_top, band_dense, band_dense_fill]
    for g in groups:
        pts = np.array(g)
        ax.plot(pts[:, 0], pts[:, 1], linestyle='none', marker='o', ms=3.0, mew=0, color='k', clip_on=False)

    ax.set_xlim(1.114, 5.417)
    ax.set_ylim(1.130, 5.401)

    ax.xaxis.set_major_locator(FixedLocator([x_zero] + decades))
    ax.yaxis.set_major_locator(FixedLocator([y_zero] + decades))
    ax.xaxis.set_minor_locator(FixedLocator(x_low_ticks + between_100_1000 + upper_ticks()))
    ax.yaxis.set_minor_locator(FixedLocator(y_low_ticks + between_100_1000 + upper_ticks()))
    ax.xaxis.set_minor_formatter(NullFormatter())
    ax.yaxis.set_minor_formatter(NullFormatter())
    ax.set_xticklabels(['0'] + decade_labels)
    ax.set_yticklabels(['0'] + decade_labels)

    ax.tick_params(which='major', length=14, width=1.6, labelsize=28, pad=7)
    ax.tick_params(which='minor', length=5.5, width=1.5)
    set_tick_lengths(ax.xaxis)
    set_tick_lengths(ax.yaxis)

    for s in ax.spines.values():
        s.set_linewidth(2.2)

    ax.set_xlabel('FITC CD45RA', fontsize=26)
    ax.xaxis.set_label_coords(0.5, -0.113)
    ax.set_ylabel('BD Horizon\u2122 BV480 CCR7 (CD197)', fontsize=26.4)
    ax.yaxis.set_label_coords(-0.12, 0.506)

    fig.savefig('out.png', dpi=100)


if __name__ == '__main__':
    main()
